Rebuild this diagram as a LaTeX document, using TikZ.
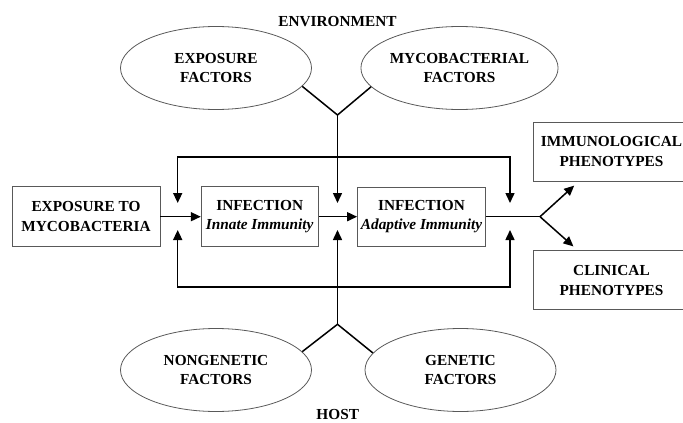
\documentclass[tikz,border=0pt]{standalone}
\usepackage{fontspec}
\setmainfont{Liberation Serif}
\usetikzlibrary{shapes,arrows.meta}

\begin{document}
\begin{tikzpicture}[x=1pt, y=-1pt,
        font=\fontsize{15.3}{19.5}\selectfont\bfseries,
        box/.style={draw=black!65, line width=0.8pt, align=center, inner sep=0pt},
        oval/.style={ellipse, draw=black!65, line width=0.8pt, align=center, inner sep=0pt, minimum width=191pt, minimum height=83pt},
        link/.style={line width=1.5pt},
        arr/.style={link, -{Triangle[length=10pt,width=9pt]}},
        dbl/.style={link, {Triangle[length=10pt,width=9pt]}-{Triangle[length=10pt,width=9pt]}}]
        \useasboundingbox (0,0) rectangle (683,423);
        \clip (0,0) rectangle (683,423);
        % environment
        \node (env) at (337.5,21.7) {ENVIRONMENT};
        \node[oval] (expfac) at (216,68) {EXPOSURE\\FACTORS};
        \node[oval] (mycfac) at (459.5,68) {MYCOBACTERIAL\\FACTORS};
        % chain
        \node[box, minimum width=148pt, minimum height=60pt] (expo) at (86,216.7) {EXPOSURE TO\\MYCOBACTERIA};
        \node[box, minimum width=117pt, minimum height=60pt] (innate) at (259.7,216.7) {INFECTION\\\itshape Innate Immunity};
        \node[box, minimum width=128pt, minimum height=59pt] (adapt) at (421.5,216.7) {INFECTION\\\itshape Adaptive Immunity};
        % phenotypes
        \node[box, minimum width=157pt, minimum height=59pt] (immuno) at (611.5,151.7) {IMMUNOLOGICAL\\PHENOTYPES};
        \node[box, minimum width=157pt, minimum height=59pt] (clinic) at (611.5,280.3) {CLINICAL\\PHENOTYPES};
        % host
        \node[oval] (nongen) at (216,370) {NONGENETIC\\FACTORS};
        \node[oval] (genfac) at (460.5,370) {GENETIC\\FACTORS};
        \node (host) at (337.7,414.5) {HOST};
        % joints and tips
        \coordinate (topj) at (337.5,115);
        \coordinate (botj) at (337.5,324.3);
        \coordinate (fork) at (540,216.7);
        \coordinate (tipa) at (177.7,203);
        \coordinate (tipb) at (337.5,203);
        \coordinate (tipc) at (510,203);
        \coordinate (tipd) at (177.7,230);
        \coordinate (tipe) at (337.5,230);
        \coordinate (tipf) at (510,230);
        % connectors
        \draw[link] (expfac.-12) -- (topj) -- (mycfac.192);
        \draw[link] (nongen.12) -- (botj) -- (genfac.169);
        \draw[arr] (topj) -- (tipb);
        \draw[arr] (botj) -- (tipe);
        \draw[dbl] (tipa) -- ++(0,-46) -| (tipc);
        \draw[dbl] (tipd) -- ++(0,57) -| (tipf);
        \draw[arr] (expo) -- (innate);
        \draw[arr] (innate) -- (adapt);
        \draw[link] (adapt) -- (fork);
        \draw[arr, shorten >=6pt] (fork) -- (immuno);
        \draw[arr, shorten >=6pt] (fork) -- (clinic);
    \end{tikzpicture}
\end{document}
